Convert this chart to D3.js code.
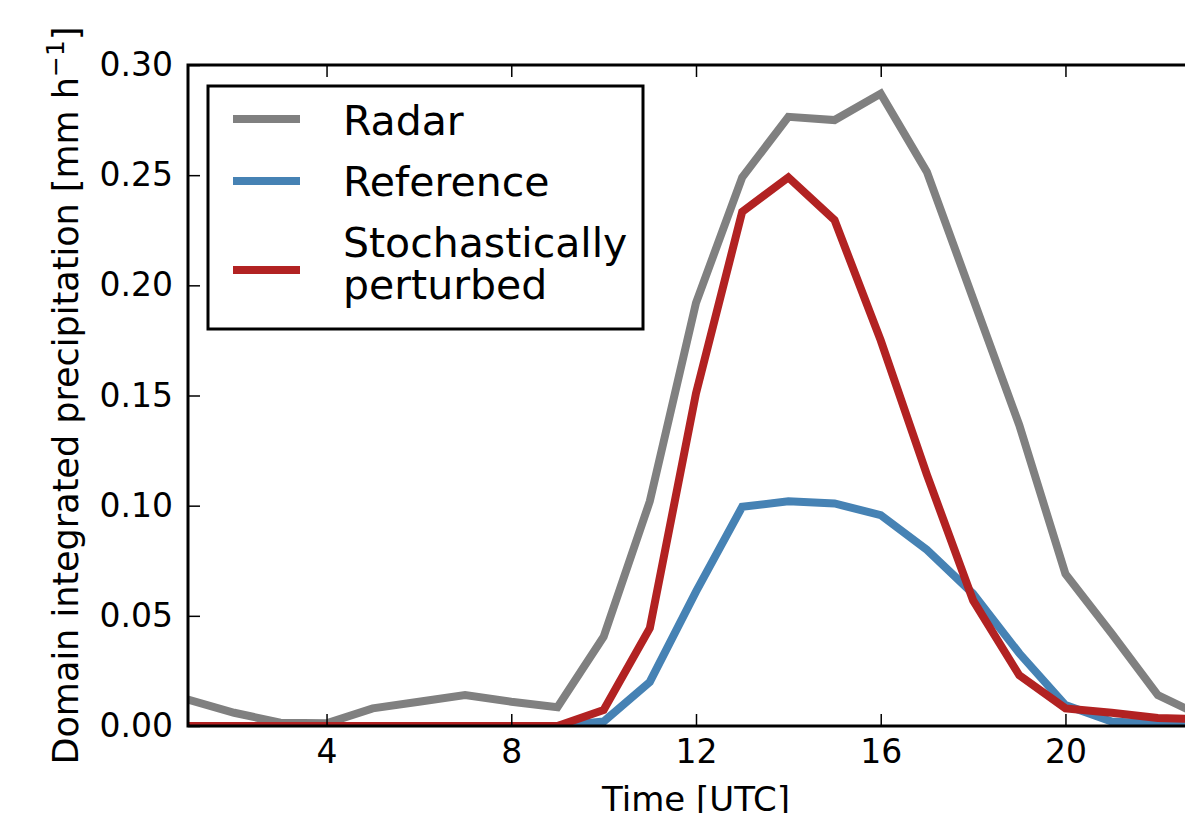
<!DOCTYPE html>
<html>
<head>
<meta charset="utf-8">
<script src="https://cdn.jsdelivr.net/npm/d3@7"></script>
<style>
    html, body { margin: 0; padding: 0; background: #fff; overflow: hidden; }
    svg { display: block; font-family: "DejaVu Sans", sans-serif; }
</style>
</head>
<body>
<svg id="chart"></svg>
<script>
'use strict'

// hourly values
const hours = [1, 2, 3, 4, 5, 6, 7, 8, 9, 10, 11, 12, 13, 14, 15, 16, 17, 18, 19, 20, 21, 22, 23];

const radar = [0.012, 0.006, 0.0015, 0.0012, 0.008, 0.011, 0.014, 0.011, 0.0085, 0.0405, 0.102, 0.192,
    0.249, 0.2765, 0.275, 0.287, 0.2515, 0.194, 0.1366, 0.069, 0.042, 0.014, 0.004];

const reference = [0, 0, 0, 0, 0, 0, 0, 0, 0, 0.002, 0.020, 0.061,
    0.0995, 0.102, 0.101, 0.0957, 0.080, 0.060, 0.033, 0.0095, 0.002, 0.001, 0.001];

const perturbed = [0, 0, 0, 0, 0, 0, 0, 0, 0, 0.0073, 0.0444, 0.151,
    0.2334, 0.249, 0.2296, 0.175, 0.114, 0.057, 0.023, 0.008, 0.006, 0.0036, 0.003];

const seriesNames = ['Radar', 'Reference', 'Stochastically\nperturbed'];
const seriesColors = ['#808080', '#4682b4', '#b22222'];

const xTicks = [4, 8, 12, 16, 20];
const yTicks = [0, 0.05, 0.10, 0.15, 0.20, 0.25, 0.30];

const width = 1185,
    height = 813;

const plot = { left: 188, top: 65, right: 1204, bottom: 726 };

const TICK_LEN = 12;

let svg = d3.select('#chart')
    .attr('width', width)
    .attr('height', height);

let x = d3.scaleLinear().domain([1, 23]).range([plot.left, plot.right]);
let y = d3.scaleLinear().domain([0, 0.30]).range([plot.bottom, plot.top]);

svg.append('defs').append('clipPath')
    .attr('id', 'plot-clip')
    .append('rect')
    .attr('x', plot.left)
    .attr('y', plot.top)
    .attr('width', plot.right - plot.left)
    .attr('height', plot.bottom - plot.top);

// lines
let line = d3.line()
    .x((d, i) => x(hours[i]))
    .y(d => y(d));

let lineGroup = svg.append('g').attr('clip-path', 'url(#plot-clip)');

[radar, reference, perturbed].forEach((values, i) => {
    lineGroup.append('path')
        .datum(values)
        .attr('fill', 'none')
        .attr('stroke', seriesColors[i])
        .attr('stroke-width', 8)
        .attr('stroke-linejoin', 'miter')
        .attr('d', line);
});

// axes, ticks pointing inward
function styleAxis(g) {
    g.select('.domain').remove();
    g.selectAll('.tick line').attr('stroke', '#000').attr('stroke-width', 1.5);
    g.selectAll('.tick text')
        .attr('fill', '#000')
        .style('font-size', '33px')
        .style('font-family', '"DejaVu Sans", sans-serif');
}

svg.append('g')
    .attr('transform', 'translate(0,' + plot.bottom + ')')
    .call(d3.axisBottom(x).tickValues(xTicks).tickSizeInner(-TICK_LEN).tickSizeOuter(0).tickPadding(14))
    .call(styleAxis);

svg.append('g')
    .attr('transform', 'translate(0,' + plot.top + ')')
    .call(d3.axisTop(x).tickValues(xTicks).tickSizeInner(-TICK_LEN).tickSizeOuter(0).tickFormat(''))
    .call(styleAxis);

svg.append('g')
    .attr('transform', 'translate(' + plot.left + ',0)')
    .call(d3.axisLeft(y).tickValues(yTicks).tickSizeInner(-TICK_LEN).tickSizeOuter(0).tickPadding(15)
        .tickFormat(d3.format('.2f')))
    .call(styleAxis);

svg.append('g')
    .attr('transform', 'translate(' + plot.right + ',0)')
    .call(d3.axisRight(y).tickValues(yTicks).tickSizeInner(-TICK_LEN).tickSizeOuter(0).tickFormat(''))
    .call(styleAxis);

// frame
svg.append('rect')
    .attr('x', plot.left)
    .attr('y', plot.top)
    .attr('width', plot.right - plot.left)
    .attr('height', plot.bottom - plot.top)
    .attr('fill', 'none')
    .attr('stroke', '#000')
    .attr('stroke-width', 3);

// axis labels
svg.append('text')
    .attr('x', (plot.left + plot.right) / 2)
    .attr('y', 811)
    .attr('text-anchor', 'middle')
    .style('font-size', '34px')
    .text('Time [UTC]');

let yLabel = svg.append('text')
    .attr('transform', 'translate(78,' + (plot.top + plot.bottom) / 2 + ') rotate(-90)')
    .attr('text-anchor', 'middle')
    .style('font-size', '35px');

yLabel.append('tspan').text('Domain integrated precipitation [mm h');
yLabel.append('tspan')
    .attr('dy', -14)
    .style('font-size', '25px')
    .text('\u22121');
yLabel.append('tspan')
    .attr('dy', 14)
    .text(']');

// legend
let legend = svg.append('g');

legend.append('rect')
    .attr('x', 208)
    .attr('y', 86)
    .attr('width', 435)
    .attr('height', 243)
    .attr('fill', '#fff')
    .attr('stroke', '#000')
    .attr('stroke-width', 3);

const legendRows = [
    { handle: 119, baselines: [135] },
    { handle: 181, baselines: [196] },
    { handle: 270, baselines: [257, 299] }
];

seriesNames.forEach((name, i) => {
    let row = legendRows[i];

    legend.append('line')
        .attr('x1', 233)
        .attr('x2', 300)
        .attr('y1', row.handle)
        .attr('y2', row.handle)
        .attr('stroke', seriesColors[i])
        .attr('stroke-width', 8);

    name.split('\n').forEach((part, j) => {
        legend.append('text')
            .attr('x', 343)
            .attr('y', row.baselines[j])
            .style('font-size', '41px')
            .text(part);
    });
});
</script>
</body>
</html>
